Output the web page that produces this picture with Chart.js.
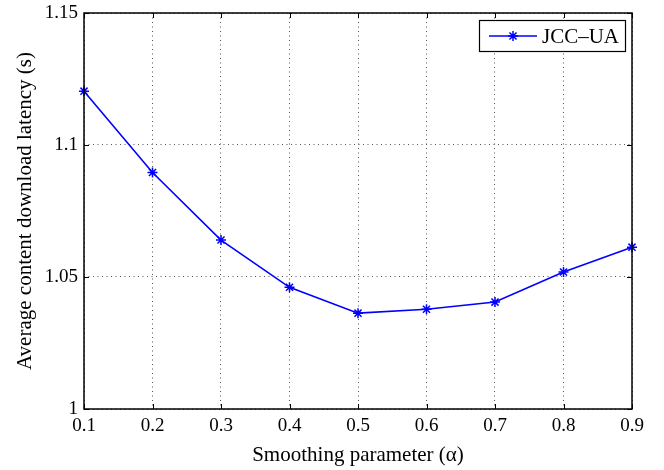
<!DOCTYPE html>
<html><head><meta charset="utf-8">
<script src="https://cdn.jsdelivr.net/npm/chart.js@4.4.0/dist/chart.umd.min.js"></script>
<style>html,body{margin:0;padding:0;background:#fff}#wrap{width:664px;height:470px}</style>
</head><body><div id="wrap"><canvas id="c" width="664" height="470"></canvas></div>
<script>
const alphaValues = [0.1, 0.2, 0.3, 0.4, 0.5, 0.6, 0.7, 0.8, 0.9];
const latencyJCCUA = [1.1204, 1.0896, 1.0640, 1.0461, 1.0363, 1.0378, 1.0405, 1.0519, 1.0613];
const xTicks = [0.1, 0.2, 0.3, 0.4, 0.5, 0.6, 0.7, 0.8, 0.9];
const yTicks = [1, 1.05, 1.1, 1.15];
const seriesName = "JCC\u2013UA";
const xTitle = "Smoothing parameter (\u03b1)";
const yTitle = "Average content download latency (s)";

const FONT = "'Liberation Serif','DejaVu Serif',serif";
const BLUE = '#0000ff';

const boxPlugin = {
  id: 'boxPlugin',
  afterDraw(chart) {
    const {ctx, chartArea: a, scales} = chart;
    ctx.save();
    ctx.strokeStyle = '#000'; ctx.lineWidth = 1;
    const tl = 5;
    xTicks.forEach(v => {
      const x = Math.round(scales.x.getPixelForValue(v)) + 0.5;
      ctx.beginPath(); ctx.moveTo(x, a.bottom); ctx.lineTo(x, a.bottom - tl); ctx.stroke();
      ctx.beginPath(); ctx.moveTo(x, a.top); ctx.lineTo(x, a.top + tl); ctx.stroke();
    });
    yTicks.forEach(v => {
      const y = Math.round(scales.y.getPixelForValue(v)) + 0.5;
      ctx.beginPath(); ctx.moveTo(a.left, y); ctx.lineTo(a.left + tl, y); ctx.stroke();
      ctx.beginPath(); ctx.moveTo(a.right, y); ctx.lineTo(a.right - tl, y); ctx.stroke();
    });
    ctx.lineWidth = 1.5;
    ctx.strokeRect(a.left, a.top, a.right - a.left, a.bottom - a.top);
    // legend
    const lx = 479, ly = 20, lw = 146, lh = 31;
    ctx.fillStyle = '#fff';
    ctx.fillRect(lx, ly, lw, lh);
    ctx.lineWidth = 1.2; ctx.strokeStyle = '#000';
    ctx.strokeRect(lx + 0.5, ly + 0.5, lw, lh);
    const cy = ly + lh / 2 + 0.5;
    ctx.strokeStyle = BLUE; ctx.lineWidth = 1.5;
    ctx.beginPath(); ctx.moveTo(489, cy); ctx.lineTo(537, cy); ctx.stroke();
    Chart.helpers.drawPoint(ctx, {pointStyle: 'star', radius: 5, rotation: 0, borderWidth: 1.5}, 513, cy);
    ctx.fillStyle = '#000';
    ctx.font = '21px ' + FONT;
    ctx.textBaseline = 'middle';
    ctx.fillText(chart.data.datasets[0].label, 542, cy + 1);
    ctx.restore();
  }
};

new Chart(document.getElementById('c'), {
  type: 'line',
  data: {
    datasets: [{
      label: seriesName,
      data: alphaValues.map((x, i) => ({x, y: latencyJCCUA[i]})),
      borderColor: BLUE,
      backgroundColor: BLUE,
      borderWidth: 1.6,
      pointStyle: 'star',
      pointRadius: 5,
      pointBorderWidth: 1.5,
      pointBorderColor: BLUE,
      tension: 0,
      clip: false
    }]
  },
  options: {
    responsive: false,
    animation: false,
    devicePixelRatio: 1,
    layout: {padding: {top: 13, right: 32, left: 0, bottom: 0}},
    plugins: {legend: {display: false}, tooltip: {enabled: false}},
    scales: {
      x: {
        type: 'linear', min: 0.1, max: 0.9,
        afterBuildTicks: s => { s.ticks = xTicks.map(v => ({value: v})); },
        afterFit: s => { s.height = 61; s.paddingLeft = 0; s.paddingRight = 0; },
        ticks: {color: '#000', font: {family: FONT, size: 19}, padding: 6, maxRotation: 0,
                callback: v => v.toFixed(1)},
        grid: {color: '#555', lineWidth: 1, drawTicks: false, tickLength: 0},
        border: {display: false, dash: [1, 3.5]},
        title: {display: true, text: xTitle, color: '#000', font: {family: FONT, size: 21}, padding: {top: 0, bottom: 2}}
      },
      y: {
        type: 'linear', min: 1, max: 1.15,
        afterBuildTicks: s => { s.ticks = yTicks.map(v => ({value: v})); },
        afterFit: s => { s.width = 84; s.paddingTop = 0; s.paddingBottom = 0; },
        ticks: {color: '#000', font: {family: FONT, size: 19}, padding: 6,
                callback: v => String(Math.round(v * 100) / 100)},
        grid: {color: '#555', lineWidth: 1, drawTicks: false, tickLength: 0},
        border: {display: false, dash: [1, 3.5]},
        title: {display: true, text: yTitle, color: '#000', font: {family: FONT, size: 21}, padding: {top: 13, bottom: 0}}
      }
    }
  },
  plugins: [boxPlugin]
});
</script>
</body></html>
